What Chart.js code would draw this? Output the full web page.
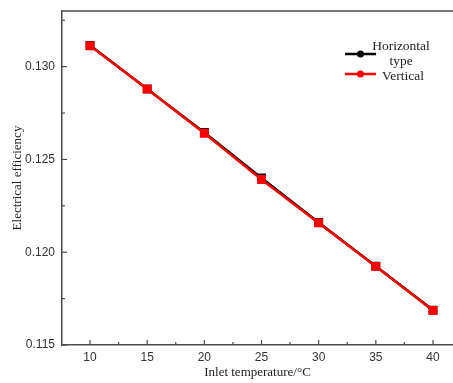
<!DOCTYPE html>
<html>
<head>
<meta charset="utf-8">
<script src="https://cdn.jsdelivr.net/npm/chart.js@4"></script>
<style>
  html, body { margin: 0; padding: 0; background: #fff; }
  #wrap { width: 453px; height: 383px; }
</style>
</head>
<body>
<div id="wrap"><canvas id="chart"></canvas></div>
<script>
// values
const temps = [10, 15, 20, 25, 30, 35, 40];
const horizontalType = [0.13115, 0.12880, 0.12645, 0.12400, 0.12160, 0.11925, 0.11688];
const vertical = [0.13113, 0.12879, 0.12641, 0.12392, 0.12158, 0.11923, 0.11686];
const xTicks = [10, 15, 20, 25, 30, 35, 40];
const yTicks = [0.115, 0.120, 0.125, 0.130];

const axisColor = "#4a4a4a";

// inward major/minor ticks + top frame line
const framePlugin = {
  id: "frame",
  afterDraw(chart) {
    const ctx = chart.ctx;
    const area = chart.chartArea;
    const x = chart.scales.x;
    const y = chart.scales.y;
    ctx.save();
    ctx.strokeStyle = axisColor;
    ctx.lineWidth = 1.5;
    ctx.beginPath();
    ctx.moveTo(area.left, area.top);
    ctx.lineTo(chart.width, area.top);
    ctx.stroke();
    ctx.lineWidth = 1.2;
    xTicks.forEach(function(v) {
      const px = x.getPixelForValue(v);
      ctx.beginPath(); ctx.moveTo(px, area.bottom); ctx.lineTo(px, area.bottom - 5); ctx.stroke();
      const mx = x.getPixelForValue(v + 2.5);
      if (mx < chart.width) {
        ctx.beginPath(); ctx.moveTo(mx, area.bottom); ctx.lineTo(mx, area.bottom - 3); ctx.stroke();
      }
    });
    yTicks.forEach(function(v) {
      const py = y.getPixelForValue(v);
      ctx.beginPath(); ctx.moveTo(area.left, py); ctx.lineTo(area.left + 5, py); ctx.stroke();
      const my = y.getPixelForValue(v + 0.0025);
      if (my > area.top) {
        ctx.beginPath(); ctx.moveTo(area.left, my); ctx.lineTo(area.left + 3, my); ctx.stroke();
      }
    });
    ctx.restore();
  }
};

// legend with a two line label
const legendPlugin = {
  id: "boxLegend",
  afterDraw(chart) {
    const ctx = chart.ctx;
    ctx.save();
    ctx.font = "13.5px 'Liberation Serif', 'Times New Roman', serif";
    ctx.textAlign = "center";
    ctx.textBaseline = "middle";
    const rows = [
      { ds: chart.data.datasets[0], lines: ["Horizontal", "type"], y: 54, ty: [46, 61] },
      { ds: chart.data.datasets[1], lines: ["Vertical"], y: 74, ty: [76] }
    ];
    rows.forEach(function(r) {
      ctx.strokeStyle = r.ds.borderColor;
      ctx.fillStyle = r.ds.borderColor;
      ctx.lineWidth = 2.5;
      ctx.beginPath(); ctx.moveTo(345, r.y); ctx.lineTo(376, r.y); ctx.stroke();
      ctx.beginPath(); ctx.arc(360.5, r.y, 3.5, 0, Math.PI * 2); ctx.fill();
      ctx.fillStyle = "#222";
      r.lines.forEach(function(t, i) { ctx.fillText(t, r.lines.length > 1 ? 401 : 403, r.ty[i]); });
    });
    ctx.restore();
  }
};

const ctx = document.getElementById("chart").getContext("2d");
new Chart(ctx, {
  type: "line",
  data: {
    datasets: [{
      label: "Horizontal type",
      data: temps.map((t, i) => ({ x: t, y: horizontalType[i] })),
      borderColor: "#000000",
      backgroundColor: "#000000",
      borderWidth: 2.5,
      pointStyle: "rect",
      pointRadius: 4.5,
      order: 1
    }, {
      label: "Vertical",
      data: temps.map((t, i) => ({ x: t, y: vertical[i] })),
      borderColor: "#ff0000",
      backgroundColor: "#ff0000",
      borderWidth: 2.5,
      pointStyle: "rect",
      pointRadius: 4.5,
      order: 0
    }]
  },
  options: {
    responsive: true,
    maintainAspectRatio: false,
    animation: false,
    layout: { autoPadding: false, padding: { top: 11, right: 0, left: 0, bottom: 0 } },
    plugins: { legend: { display: false }, tooltip: { enabled: false } },
    scales: {
      x: {
        type: "linear",
        min: 7.55,
        max: 41.75,
        afterBuildTicks: s => { s.ticks = xTicks.map(v => ({ value: v })); },
        afterFit: s => { s.height = 38; s.paddingLeft = 0; s.paddingRight = 0; },
        grid: { display: false, drawTicks: false },
        border: { display: true, color: axisColor, width: 1.5 },
        ticks: {
          padding: 5,
          color: "#333",
          font: { family: "'Liberation Sans', Arial, sans-serif", size: 12 }
        },
        title: {
          display: true,
          text: "Inlet temperature/°C",
          color: "#222",
          padding: { top: 0, bottom: 3 },
          font: { family: "'Liberation Serif', 'Times New Roman', serif", size: 13 }
        }
      },
      y: {
        min: 0.115,
        max: 0.133,
        afterBuildTicks: s => { s.ticks = yTicks.map(v => ({ value: v })); },
        afterFit: s => { s.width = 62; s.paddingTop = 0; s.paddingBottom = 0; },
        grid: { display: false, drawTicks: false },
        border: { display: true, color: axisColor, width: 1.5 },
        ticks: {
          padding: 7,
          color: "#333",
          callback: v => v.toFixed(3),
          font: { family: "'Liberation Sans', Arial, sans-serif", size: 12 }
        },
        title: {
          display: true,
          text: "Electrical efficiency",
          color: "#222",
          padding: { top: 10, bottom: 0 },
          font: { family: "'Liberation Serif', 'Times New Roman', serif", size: 13 }
        }
      }
    }
  },
  plugins: [framePlugin, legendPlugin]
});
</script>
</body>
</html>
